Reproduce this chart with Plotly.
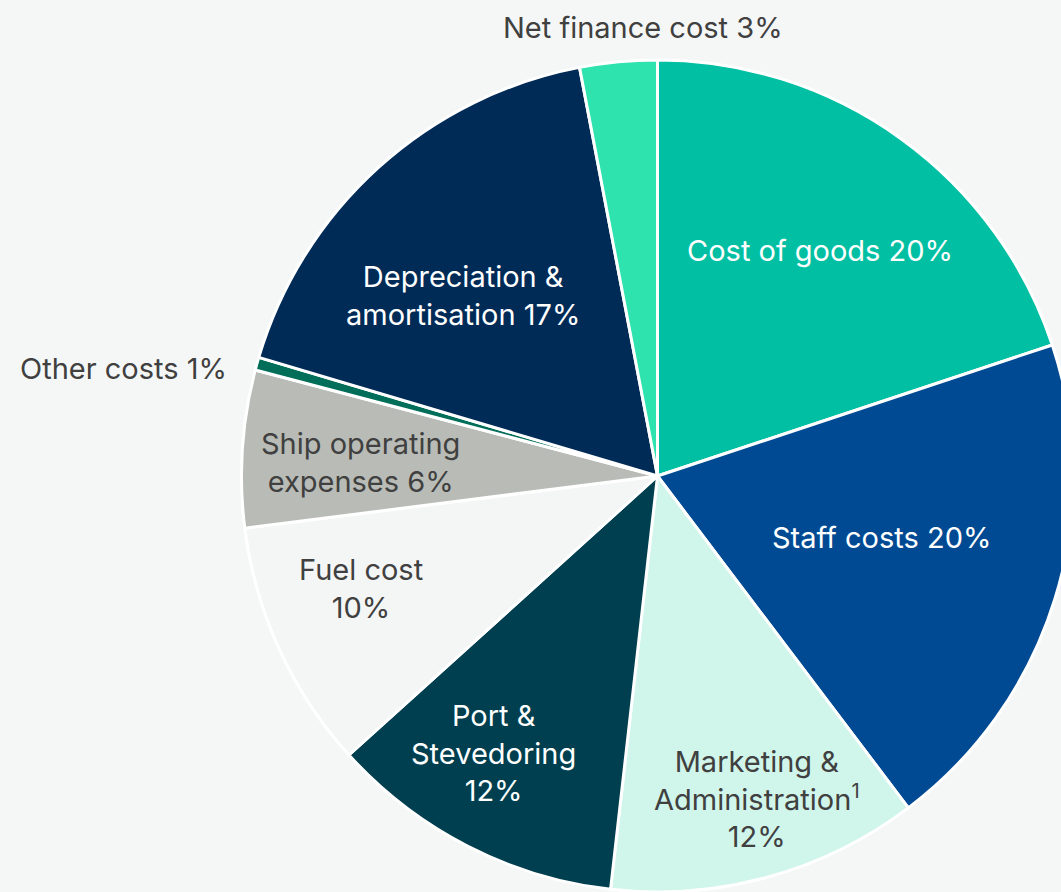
"""Cost breakdown pie – share of total costs by category."""
import plotly.graph_objects as go

W, H = 1074, 892

labels = [
    "Cost of goods", "Staff costs", "Marketing & Administration",
    "Port & Stevedoring", "Fuel cost", "Ship operating expenses",
    "Other costs", "Depreciation & amortisation", "Net finance cost",
]
shares = [19.9, 19.8, 12.1, 11.5, 9.7, 6.1, 0.5, 17.4, 3.0]
pct_text = [20, 20, 12, 12, 10, 6, 1, 17, 3]
colors = [
    "#00BFA3", "#004A93", "#D0F5EB", "#003F4F", "#F4F5F5",
    "#B9BCB6", "#006E58", "#002B57", "#2FE3AF",
]

# label text, pixel centre, text colour
label_text = [
    f"Cost of goods {pct_text[0]}%",
    f"Staff costs {pct_text[1]}%",
    f"Marketing &<br>Administration<sup>1</sup><br>{pct_text[2]}%",
    f"Port &<br>Stevedoring<br>{pct_text[3]}%",
    f"Fuel cost<br>{pct_text[4]}%",
    f"Ship operating<br>expenses {pct_text[5]}%",
    f"Other costs {pct_text[6]}%",
    f"Depreciation &<br>amortisation {pct_text[7]}%",
    f"Net finance cost {pct_text[8]}%",
]
label_pos = [(820, 250), (881, 537), (757, 799), (493, 753), (361, 588),
             (360, 462), (123, 368), (463, 295), (643, 27)]
dark = "#404040"
label_color = ["white", "white", dark, "white", dark, dark, dark, "white", dark]

fig = go.Figure(go.Pie(
    labels=labels,
    values=shares,
    sort=False,
    direction="clockwise",
    rotation=0,
    marker=dict(colors=colors, line=dict(color="white", width=3)),
    textinfo="none",
    hoverinfo="label+percent",
    domain=dict(x=[241 / W, 1], y=[0, 832 / H]),
    showlegend=False,
))

for txt, (px, py), col in zip(label_text, label_pos, label_color):
    fig.add_annotation(
        x=px / W, y=1 - py / H, xref="paper", yref="paper",
        text=txt, showarrow=False, xanchor="center", yanchor="middle",
        font=dict(color=col, size=29, family="Inter"),
    )

fig.update_layout(
    width=W, height=H,
    margin=dict(l=0, r=0, t=0, b=0),
    paper_bgcolor="#F5F7F7",
    plot_bgcolor="#F5F7F7",
)
# drop the default page margin and clip the slight overflow on the right
fig.write_html(
    "out.html",
    config={"displayModeBar": False},
    post_script="document.body.style.margin='0';document.body.style.overflow='hidden';",
)
